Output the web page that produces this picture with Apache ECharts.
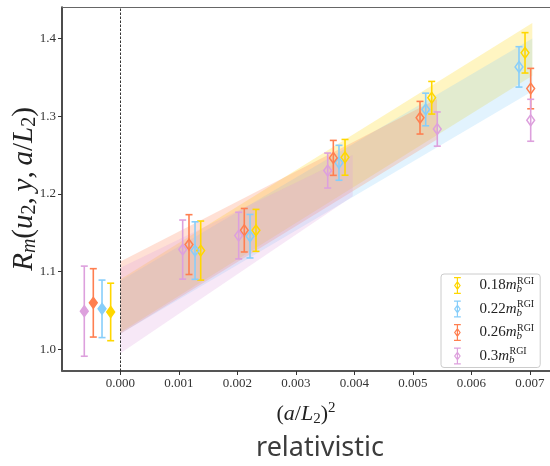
<!DOCTYPE html>
<html>
<head>
<meta charset="utf-8">
<script src="https://cdn.jsdelivr.net/npm/echarts@6/dist/echarts.min.js"></script>
<style>html,body{margin:0;padding:0;background:#fff}#c{width:550px;height:466px}</style>
</head>
<body>
<div id="c"></div>
<script>
// ---------- data ----------
const seriesNames = ['0.18', '0.22', '0.26', '0.3'];
const xTicks = [0, 0.001, 0.002, 0.003, 0.004, 0.005, 0.006, 0.007];
const yTicks = [1.0, 1.1, 1.2, 1.3, 1.4];

// continuum (extrapolated) points, filled markers
const contX   = [-0.000168, -0.000316, -0.000465, -0.000619];
const contY   = [1.048, 1.052, 1.0597, 1.049];
const contErr = [0.037, 0.037, 0.044, 0.058];

// lattice points
const x018 = [0.001371, 0.002316, 0.003838, 0.005320, 0.006915];
const y018 = [1.127, 1.153, 1.247, 1.3237, 1.3815];
const e018 = [0.038, 0.027, 0.023, 0.021, 0.026];

const x022 = [0.001274, 0.002214, 0.003735, 0.005217, 0.006812];
const y022 = [1.127, 1.1455, 1.240, 1.3086, 1.3634];
const e022 = [0.037, 0.028, 0.0225, 0.021, 0.026];

const x026 = [0.001171, 0.002116, 0.003638, 0.005120, 0.007012];
const y026 = [1.1347, 1.1532, 1.2463, 1.298, 1.3355];
const e026 = [0.0385, 0.028, 0.0225, 0.021, 0.026];

const x030 = [0.001063, 0.002020, 0.003542, 0.005415, 0.007012];
const y030 = [1.1283, 1.1463, 1.230, 1.2834, 1.2947];
const e030 = [0.038, 0.030, 0.0225, 0.022, 0.027];

// fit bands
const bandX018 = [0, 0.00704];  const bandLo018 = [1.022, 1.352]; const bandHi018 = [1.090, 1.420];
const bandX022 = [0, 0.00704];  const bandLo022 = [1.020, 1.332]; const bandHi022 = [1.088, 1.400];
const bandX026 = [0, 0.00541];  const bandLo026 = [1.020, 1.270]; const bandHi026 = [1.113, 1.322];
const bandX030 = [0, 0.00397];  const bandLo030 = [0.995, 1.197]; const bandHi030 = [1.105, 1.250];

// ---------- styling ----------
const colors = ['#FFD700', '#87CEFA', '#FF7F50', '#DDA0DD'];
const bandAlpha = 0.24;
const serif = 'Liberation Serif';

const pts = [[x018, y018, e018], [x022, y022, e022], [x026, y026, e026], [x030, y030, e030]];
const bands = [[bandX018, bandLo018, bandHi018], [bandX022, bandLo022, bandHi022],
               [bandX026, bandLo026, bandHi026], [bandX030, bandLo030, bandHi030]];

function hexA(hex, a) {
  const n = parseInt(hex.slice(1), 16);
  return `rgba(${(n >> 16) & 255},${(n >> 8) & 255},${n & 255},${a})`;
}

function bandRender(color, rows) {
  return function (params, api) {
    const i = params.dataIndex;
    if (i >= rows.length - 1) return null;
    const a = rows[i], b = rows[i + 1];
    const p = [api.coord([a[0], a[1]]), api.coord([b[0], b[1]]),
               api.coord([b[0], b[2]]), api.coord([a[0], a[2]])];
    return { type: 'polygon', shape: { points: p }, style: { fill: hexA(color, bandAlpha), stroke: null } };
  };
}

function errRender(color) {
  return function (params, api) {
    const x = api.value(0), y = api.value(1), e = api.value(2), filled = api.value(3);
    const p = api.coord([x, y]);
    const t = api.coord([x, y + e]);
    const b = api.coord([x, y - e]);
    const lw = 1.6, cw = 3.5, dw = 3.9, dh = 5.4;
    const ls = { stroke: color, lineWidth: lw };
    return {
      type: 'group',
      children: [
        { type: 'line', shape: { x1: p[0], y1: t[1], x2: p[0], y2: b[1] }, style: ls },
        { type: 'line', shape: { x1: p[0] - cw, y1: t[1], x2: p[0] + cw, y2: t[1] }, style: ls },
        { type: 'line', shape: { x1: p[0] - cw, y1: b[1], x2: p[0] + cw, y2: b[1] }, style: ls },
        { type: 'polygon', shape: { points: [[p[0], p[1] - dh], [p[0] + dw, p[1]], [p[0], p[1] + dh], [p[0] - dw, p[1]]] },
          style: { fill: filled ? color : 'none', stroke: color, lineWidth: 1.5 } }
      ]
    };
  };
}

const series = [];
bands.forEach((bd, k) => {
  const rows = bd[0].map((x, i) => [x, bd[1][i], bd[2][i]]);
  series.push({
    type: 'custom', name: 'band' + k, data: rows, z: 1, clip: true, silent: true,
    renderItem: bandRender(colors[k], rows),
    encode: { x: 0, y: [1, 2] },
    markLine: k === 0 ? {
      silent: true, symbol: 'none', animation: false, label: { show: false },
      lineStyle: { color: '#333', width: 1, type: [2.5, 1.5] },
      data: [{ xAxis: 0 }]
    } : undefined
  });
});
pts.forEach((p, k) => {
  const rows = [[contX[k], contY[k], contErr[k], 1]].concat(p[0].map((x, i) => [x, p[1][i], p[2][i], 0]));
  series.push({
    type: 'custom', name: seriesNames[k], data: rows, z: 3, clip: false,
    itemStyle: { color: colors[k] },
    renderItem: errRender(colors[k]),
    encode: { x: 0, y: 1 }
  });
});

const legendIcon = 'path://M1,0H9V1.4H1Z M1,18.6H9V20H1Z M4.3,0H5.7V20H4.3Z ' +
  'M5,4.5L9,10L5,15.5L1,10Z M5,7L2.6,10L5,13L7.4,10Z';

const chart = echarts.init(document.getElementById('c'), null, { renderer: 'canvas' });
chart.setOption({
  animation: false,
  backgroundColor: '#fff',
  grid: { left: 62, right: 0, top: 7, bottom: 95, outerBoundsMode: 'none', containLabel: false },
  xAxis: [{
    type: 'value', min: -0.001, max: 0.007342,
    name: '{r|(}{i|a}{r|/}{i|L}{sub|2}{r|)}{sup|2}',
    nameLocation: 'middle', nameGap: 30, nameMoveOverlap: false,
    nameTextStyle: {
      rich: {
        r: { fontFamily: serif, fontSize: 22, color: '#222', lineHeight: 26 },
        i: { fontFamily: serif, fontStyle: 'italic', fontSize: 22, color: '#222', lineHeight: 26 },
        sub: { fontFamily: serif, fontSize: 15, color: '#222', verticalAlign: 'bottom', lineHeight: 15 },
        sup: { fontFamily: serif, fontSize: 15, color: '#222', verticalAlign: 'top', lineHeight: 14 }
      }
    },
    splitLine: { show: false },
    axisLine: { show: true, onZero: false, lineStyle: { color: '#555', width: 1.8 } },
    axisTick: { show: true, length: 4, inside: false, customValues: xTicks, lineStyle: { color: '#333', width: 1 } },
    axisLabel: { customValues: xTicks, fontFamily: serif, fontSize: 13, color: '#333', margin: 6,
                 formatter: v => v.toFixed(3) }
  }, {
    type: 'value', position: 'top', min: -0.001, max: 0.007342,
    axisLine: { show: true, onZero: false, lineStyle: { color: '#666', width: 1.2 } },
    axisTick: { show: false }, axisLabel: { show: false }, splitLine: { show: false }
  }],
  yAxis: {
    type: 'value', min: 0.972, max: 1.4405,
    name: '{i|R}{isub|m}{r|(}{i|u}{sub|2}{r|,\u2009}{i|y}{r|,\u2009}{i|a}{r|/}{i|L}{sub|2}{r|)}',
    nameLocation: 'middle', nameRotate: 90, nameGap: 22, nameMoveOverlap: false,
    nameTextStyle: {
      rich: {
        r: { fontFamily: serif, fontSize: 29, color: '#222', lineHeight: 32 },
        i: { fontFamily: serif, fontStyle: 'italic', fontSize: 29, color: '#222', lineHeight: 32 },
        isub: { fontFamily: serif, fontStyle: 'italic', fontSize: 20, color: '#222', verticalAlign: 'bottom', lineHeight: 18 },
        sub: { fontFamily: serif, fontSize: 20, color: '#222', verticalAlign: 'bottom', lineHeight: 18 }
      }
    },
    splitLine: { show: false },
    axisLine: { show: true, onZero: false, lineStyle: { color: '#111', width: 1.5 } },
    axisTick: { show: true, length: 4, inside: false, customValues: yTicks, lineStyle: { color: '#333', width: 1 } },
    axisLabel: { customValues: yTicks, fontFamily: serif, fontSize: 13, color: '#333', margin: 6,
                 formatter: v => v.toFixed(1) }
  },
  legend: {
    data: seriesNames, orient: 'vertical', left: 441, top: 274,
    padding: [2, 6, 2, 13], itemGap: 4.5, itemWidth: 10, itemHeight: 17,
    backgroundColor: 'rgba(255,255,255,0.85)', borderColor: '#ccc', borderWidth: 1, borderRadius: 3,
    icon: legendIcon, symbolKeepAspect: true,
    formatter: name => `{n|${name}}{m|m}{b|b}{s|RGI}`,
    textStyle: {
      rich: {
        n: { fontFamily: serif, fontSize: 15, color: '#222', lineHeight: 19, padding: [0, 0, 0, 12] },
        m: { fontFamily: serif, fontStyle: 'italic', fontSize: 15, color: '#222', lineHeight: 19 },
        b: { fontFamily: serif, fontStyle: 'italic', fontSize: 11, color: '#222', verticalAlign: 'bottom', lineHeight: 11 },
        s: { fontFamily: serif, fontSize: 10, color: '#222', verticalAlign: 'top', lineHeight: 10, padding: [0, 0, 0, -5] }
      }
    }
  },
  graphic: [{
    type: 'text', x: 320, y: 448,
    style: { text: 'relativistic', font: '27px "Noto Sans"', fill: '#3c3c3c', textAlign: 'center', textVerticalAlign: 'middle' }
  }],
  series
});
</script>
</body>
</html>
